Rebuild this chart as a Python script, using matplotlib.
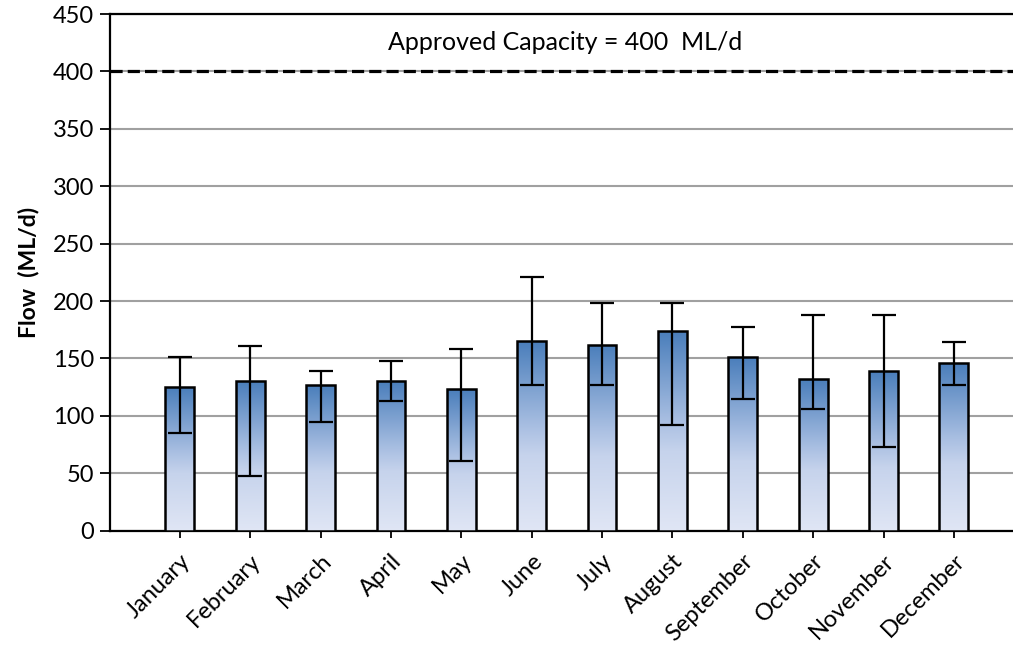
import matplotlib.pyplot as plt
import numpy as np
from matplotlib.colors import LinearSegmentedColormap
from matplotlib.patches import Rectangle

plt.rcParams['font.family'] = ['Lato', 'DejaVu Sans']

# monthly flow data (ML/d)
months = ['January', 'February', 'March', 'April', 'May', 'June', 'July',
          'August', 'September', 'October', 'November', 'December']
avg_flow = [125, 130, 127, 130, 123, 165, 162, 174, 151, 132, 139, 146]
max_flow = [151, 161, 139, 148, 158, 221, 198, 198, 177, 188, 188, 164]
min_flow = [85, 48, 95, 113, 61, 127, 127, 92, 115, 106, 73, 127]
capacity = 400

fig = plt.figure(figsize=(10.13, 6.49), dpi=100)
ax = fig.add_axes([0.1081, 0.1823, 0.8919, 0.7961])

x = np.arange(1, len(months) + 1)
bar_w = 0.41

# gradient fill for the bars
cmap = LinearSegmentedColormap.from_list('blues', [
    (0.0, '#e0e6f5'), (0.4, '#c6d3ec'), (0.55, '#a9bfe2'), (1.0, '#4a7ebb')])
grad = np.linspace(0, 1, 256).reshape(-1, 1)

bars = ax.bar(x, avg_flow, width=bar_w, facecolor='none', edgecolor='black',
              linewidth=1.8, zorder=4)
for b in bars:
    bx, by = b.get_x(), b.get_y()
    bw, bh = b.get_width(), b.get_height()
    im = ax.imshow(grad, cmap=cmap, aspect='auto', origin='lower',
                   extent=[bx, bx + bw, by, by + bh], zorder=3)
    im.set_clip_path(Rectangle((bx, by), bw, bh, transform=ax.transData))

yerr = [np.array(avg_flow) - np.array(min_flow),
        np.array(max_flow) - np.array(avg_flow)]
ax.errorbar(x, avg_flow, yerr=yerr, fmt='none', ecolor='black',
            elinewidth=1.6, capsize=8.5, capthick=1.6, zorder=5)

# approved capacity line
ax.axhline(capacity, color='black', linewidth=2.3, dashes=(3.8, 1.6), zorder=2)
ax.text(6.47, 425, 'Approved Capacity = 400  ML/d', ha='center', va='center',
        fontsize=18)

ax.set_ylim(0, 450)
ax.set_xlim(0, 12.84)
ax.set_yticks(np.arange(0, 451, 50))
ax.yaxis.grid(True, color='#a0a0a0', linewidth=1.5, zorder=1)
ax.set_axisbelow(True)

ax.set_xticks(x)
ax.set_xticklabels(months, rotation=45, ha='right', rotation_mode='anchor',
                   fontsize=17)
ax.tick_params(axis='x', length=5, width=1.3, pad=9)
ax.tick_params(axis='y', length=7, width=1.3, labelsize=17, pad=4)

for s in ['left', 'bottom', 'top']:
    ax.spines[s].set_linewidth(1.6)
ax.spines['right'].set_visible(False)

ax.set_ylabel('Flow  (ML/d)', fontsize=16.5, fontweight='bold', labelpad=10)

fig.savefig('out.png', dpi=100)
